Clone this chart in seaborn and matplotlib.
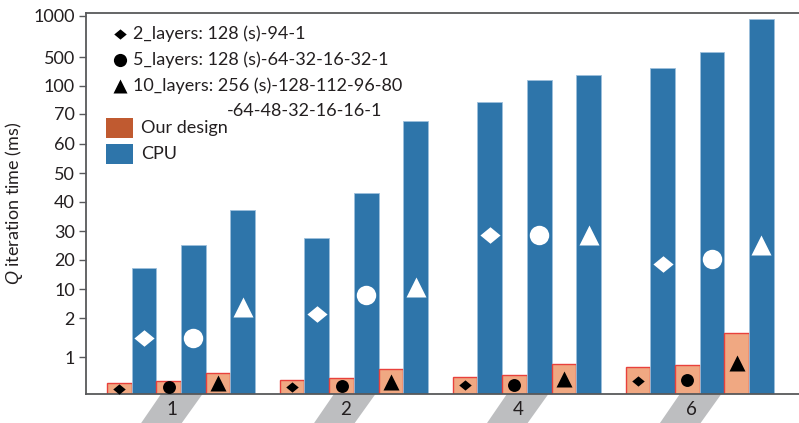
import numpy as np
import pandas as pd
import matplotlib
matplotlib.use("Agg")
import matplotlib.pyplot as plt
from matplotlib.patches import Polygon, Rectangle
from matplotlib.lines import Line2D
import seaborn as sns

# ---- data -------------------------------------------------------------
groups = ["1", "2", "4", "6"]

design_2layers = [0.29, 0.39, 0.47, 0.72]
design_5layers = [0.36, 0.42, 0.51, 0.78]
design_10layers = [0.57, 0.67, 0.81, 1.62]

cpu_2layers = [17.2, 27.7, 83, 344]
cpu_5layers = [25.2, 43.1, 183, 565]
cpu_10layers = [37.2, 67.7, 248, 963]

speedup_2layers = [1.5, 3.1, 28.6, 18.5]
speedup_5layers = [1.5, 8.3, 28.6, 20.3]
speedup_10layers = [5.1, 10.8, 28.6, 25.2]

ytick_values = [1, 2, 10, 20, 30, 40, 50, 60, 70, 100, 500, 1000]

legend_texts = [
    "2_layers: 128 (s)-94-1",
    "5_layers: 128 (s)-64-32-16-32-1",
    "10_layers: 256 (s)-128-112-96-80",
]
legend_continuation = "-64-48-32-16-16-1"

# ---- styling ----------------------------------------------------------
sns.set_theme(style="white")
plt.rcParams["font.family"] = ["Lato", "DejaVu Sans"]
plt.rcParams["mathtext.fontset"] = "custom"
plt.rcParams["mathtext.it"] = "Liberation Sans:italic"
plt.rcParams["mathtext.rm"] = "Lato"

BLUE = "#2e75aa"
ORANGE_FILL = "#f0a882"
ORANGE_EDGE = "#e8413c"
ORANGE_KEY = "#c05a30"
TEXT = "#231f20"
SPINE = "#58595b"

# piecewise axis: each tick step gets its own share of the height
scale_vals = [-1, 0, 1, 2, 10, 20, 30, 40, 50, 60, 70, 100, 500, 1000, 2000]
scale_pos = [-37, 0, 37, 76, 105, 134, 163, 192, 221, 250, 280, 308, 337, 378, 420]


def fwd(v):
    return np.interp(np.asarray(v, dtype=float), scale_vals, scale_pos)


def inv(p):
    return np.interp(np.asarray(p, dtype=float), scale_pos, scale_vals)


# ---- table ------------------------------------------------------------
slots = ["D2", "C2", "D5", "C5", "D10", "C10"]
series = {
    "D2": design_2layers, "C2": cpu_2layers,
    "D5": design_5layers, "C5": cpu_5layers,
    "D10": design_10layers, "C10": cpu_10layers,
}
rows = []
for s in slots:
    for g, v in zip(groups, series[s]):
        rows.append({"group": g, "slot": s, "ms": v})
df = pd.DataFrame(rows)

palette = {s: (ORANGE_FILL if s.startswith("D") else BLUE) for s in slots}

W, H = 799, 423
fig = plt.figure(figsize=(W / 100, H / 100), dpi=100)
ax = fig.add_axes([86 / W, (H - 394) / H, (W - 86) / W, (394 - 13) / H])

sns.barplot(data=df, x="group", y="ms", hue="slot", hue_order=slots,
            order=groups, palette=palette, width=6 / 7, errorbar=None,
            legend=False, saturation=1, ax=ax)

ax.set_yscale("function", functions=(fwd, inv))
ax.set_ylim(0, inv(381))
ax.set_xlim(-0.549, 3.574)

for s, cont in zip(slots, ax.containers):
    for bar in cont.patches:
        if s.startswith("D"):
            bar.set_edgecolor(ORANGE_EDGE)
            bar.set_linewidth(1.0)
        else:
            bar.set_edgecolor("#9dbfdc")
            bar.set_linewidth(0.6)

# marker shapes
diamond = [(-1, 0), (0, 0.82), (1, 0), (0, -0.82), (-1, 0)]
markers = {"2": diamond, "5": "o", "10": "^"}
speedups = {"2": speedup_2layers, "5": speedup_5layers, "10": speedup_10layers}
black_size = {"2": 9.0, "5": 9.3, "10": 11}
white_size = {"2": 14.5, "5": 14.0, "10": 14.5}

for s, cont in zip(slots, ax.containers):
    key = s[1:]
    xs = [b.get_x() + b.get_width() / 2 for b in cont.patches]
    if s.startswith("D"):
        hs = [b.get_height() for b in cont.patches]
        ys = inv(fwd(hs) / 2)
        ax.plot(xs, ys, ls="none", marker=markers[key], ms=black_size[key],
                color="black", mec="none", zorder=5)
    else:
        ax.plot(xs, speedups[key], ls="none", marker=markers[key],
                ms=white_size[key], color="white", mec="none", zorder=5)

# y axis
ax.set_yticks(ytick_values, labels=[str(v) for v in ytick_values])
ax.minorticks_off()
ax.tick_params(axis="y", which="major", length=5, width=1, color=SPINE,
               labelsize=13, labelcolor=TEXT, pad=3, left=True)
ax.set_ylabel(r"$Q$ iteration time (ms)", fontsize=13, color=TEXT, labelpad=6)

# x axis: labels sit on slanted grey tabs
ax.set_xticks(np.arange(len(groups)) - 0.05, labels=groups)
ax.tick_params(axis="x", length=0, labelsize=13.5, labelcolor=TEXT, pad=5)
ax.set_xlabel("")
xt = ax.get_xaxis_transform()
for c in np.arange(len(groups)) - 0.05:
    tab = Polygon([(c - 0.065, 0), (c + 0.175, 0),
                   (c + 0.055, -29 / 381), (c - 0.18, -29 / 381)],
                  closed=True, transform=xt, clip_on=False,
                  facecolor="#bdbec0", edgecolor="none", zorder=0)
    ax.add_patch(tab)

for side in ["left", "bottom", "top"]:
    ax.spines[side].set_color(SPINE)
    ax.spines[side].set_linewidth(1.3)
ax.spines["right"].set_visible(False)


# ---- key ---------------------------------------------------------------
def fig_xy(x, y):
    return (x / W, 1 - y / H)


key_y = [34, 60, 86]
key_size = {"2": 9, "5": 9.5, "10": 10}
for k, txt, yy in zip(["2", "5", "10"], legend_texts, key_y):
    fig.add_artist(Line2D([120 / W], [1 - yy / H], ls="none",
                          marker=markers[k], ms=key_size[k],
                          color="black", mec="none",
                          transform=fig.transFigure))
    fig.text(*fig_xy(133, yy), txt, fontsize=13, color=TEXT,
             va="center", ha="left")
fig.text(*fig_xy(227, 111), legend_continuation, fontsize=13, color=TEXT,
         va="center", ha="left")

for color, label, yy in [(ORANGE_KEY, "Our design", 128), (BLUE, "CPU", 154)]:
    fig.add_artist(Rectangle(fig_xy(106, yy + 10), 27 / W, 20 / H,
                             transform=fig.transFigure, facecolor=color,
                             edgecolor="none"))
    fig.text(*fig_xy(141, yy), label, fontsize=13, color=TEXT,
             va="center", ha="left")

fig.savefig("out.png", dpi=100)
